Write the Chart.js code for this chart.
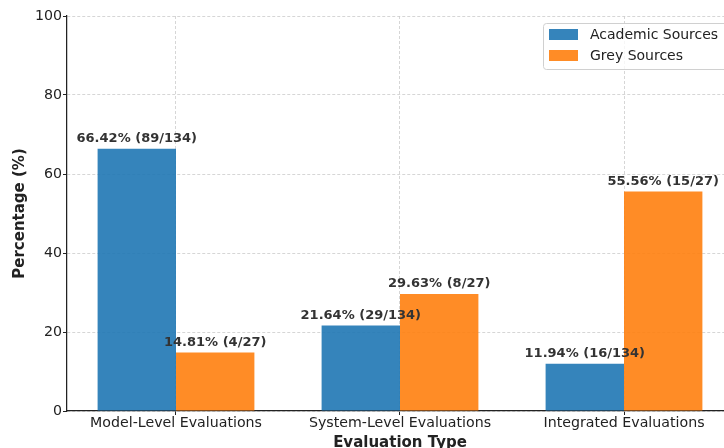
<!DOCTYPE html>
<html>
<head>
<meta charset="utf-8">
<script src="https://cdn.jsdelivr.net/npm/chart.js@4.4.1/dist/chart.umd.min.js"></script>
<style>
  html, body { margin: 0; padding: 0; background: #fff; overflow: hidden; }
  #wrap { width: 740px; height: 460px; }
</style>
</head>
<body>
<div id="wrap"><canvas id="chart" width="740" height="460"></canvas></div>
<script>
// Data
const categories = ['Model-Level Evaluations', 'System-Level Evaluations', 'Integrated Evaluations'];
const academicPct = [66.42, 21.64, 11.94];
const greyPct = [14.81, 29.63, 55.56];
const academicCounts = [89, 29, 16];
const greyCounts = [4, 8, 15];
const academicTotal = 134;
const greyTotal = 27;
const yTicks = [0, 20, 40, 60, 80, 100];

const FONT = 'DejaVu Sans';
const blue = 'rgba(31, 119, 180, 0.9)';
const orange = 'rgba(255, 127, 14, 0.9)';

// Labels above each bar: "xx.xx% (n/N)"
const barLabels = {
    id: 'barLabels',
    afterDatasetsDraw(chart) {
        const ctx = chart.ctx;
        ctx.save();
        ctx.font = 'bold 13px "' + FONT + '"';
        ctx.fillStyle = '#333333';
        ctx.textAlign = 'center';
        ctx.textBaseline = 'alphabetic';
        chart.data.datasets.forEach((ds, di) => {
            const meta = chart.getDatasetMeta(di);
            meta.data.forEach((bar, i) => {
                const text = ds.data[i].y.toFixed(2) + '% (' + ds.counts[i] + '/' + ds.total + ')';
                ctx.fillText(text, bar.x, bar.y - 6.5);
            });
        });
        ctx.restore();
    }
};

// Matplotlib style legend box in the upper right
const boxLegend = {
    id: 'boxLegend',
    afterDraw(chart) {
        const ctx = chart.ctx;
        const x = 543, y = 23, w = 186, h = 46;
        ctx.save();
        ctx.beginPath();
        ctx.roundRect(x + 0.5, y + 0.5, w, h, 3);
        ctx.fillStyle = 'rgba(255,255,255,0.8)';
        ctx.fill();
        ctx.strokeStyle = '#d0d0d0';
        ctx.lineWidth = 1;
        ctx.stroke();
        ctx.font = '14px "' + FONT + '"';
        ctx.textBaseline = 'middle';
        ctx.textAlign = 'left';
        chart.data.datasets.forEach((ds, i) => {
            const rowY = y + 12 + i * 21;
            ctx.fillStyle = ds.backgroundColor;
            ctx.fillRect(x + 6, rowY - 6, 29, 11);
            ctx.fillStyle = '#222222';
            ctx.fillText(ds.label, x + 47, rowY);
        });
        ctx.restore();
    }
};

new Chart(document.getElementById('chart'), {
    type: 'bar',
    data: {
        datasets: [
            {
                label: 'Academic Sources',
                data: academicPct.map((v, i) => ({ x: i, y: v })),
                counts: academicCounts,
                total: academicTotal,
                backgroundColor: blue,
                borderWidth: 0
            },
            {
                label: 'Grey Sources',
                data: greyPct.map((v, i) => ({ x: i, y: v })),
                counts: greyCounts,
                total: greyTotal,
                backgroundColor: orange,
                borderWidth: 0
            }
        ]
    },
    options: {
        responsive: false,
        animation: false,
        devicePixelRatio: 1,
        categoryPercentage: 0.7,
        barPercentage: 1.0,
        layout: { padding: { left: 0, right: 7, top: 16, bottom: 0 } },
        plugins: {
            legend: { display: false },
            tooltip: { enabled: false }
        },
        scales: {
            x: {
                type: 'linear',
                offset: false,
                min: -0.4866,
                max: 2.4866,
                afterBuildTicks: s => { s.ticks = categories.map((c, i) => ({ value: i })); },
                afterFit: s => { s.height = 49; },
                ticks: {
                    callback: v => categories[v],
                    font: { family: FONT, size: 14.2 },
                    color: '#222222',
                    padding: 0,
                    maxRotation: 0
                },
                grid: {
                    offset: false,
                    color: '#cccccc',
                    lineWidth: 0.8,
                    tickLength: 4,
                    tickColor: '#222222',
                    tickWidth: 1,
                    tickBorderDash: []
                },
                border: { display: true, color: '#222222', width: 1.25, dash: [3, 2] },
                title: {
                    display: true,
                    text: 'Evaluation Type',
                    font: { family: FONT, size: 15, weight: 'bold' },
                    color: '#222222',
                    padding: { top: 0, bottom: 8 }
                }
            },
            y: {
                min: 0,
                max: 100,
                afterBuildTicks: s => { s.ticks = yTicks.map(v => ({ value: v })); },
                afterFit: s => { s.width = 67; },
                ticks: {
                    font: { family: FONT, size: 14.2 },
                    color: '#222222',
                    padding: 1
                },
                grid: {
                    color: '#cccccc',
                    lineWidth: 0.8,
                    tickLength: 4,
                    tickColor: '#222222',
                    tickWidth: 1,
                    tickBorderDash: []
                },
                border: { display: true, color: '#222222', width: 1.25, dash: [3, 2] },
                title: {
                    display: true,
                    text: 'Percentage (%)',
                    font: { family: FONT, size: 15, weight: 'bold' },
                    color: '#222222',
                    padding: { top: 11, bottom: 0 }
                }
            }
        }
    },
    plugins: [barLabels, boxLegend]
});
</script>
</body>
</html>
